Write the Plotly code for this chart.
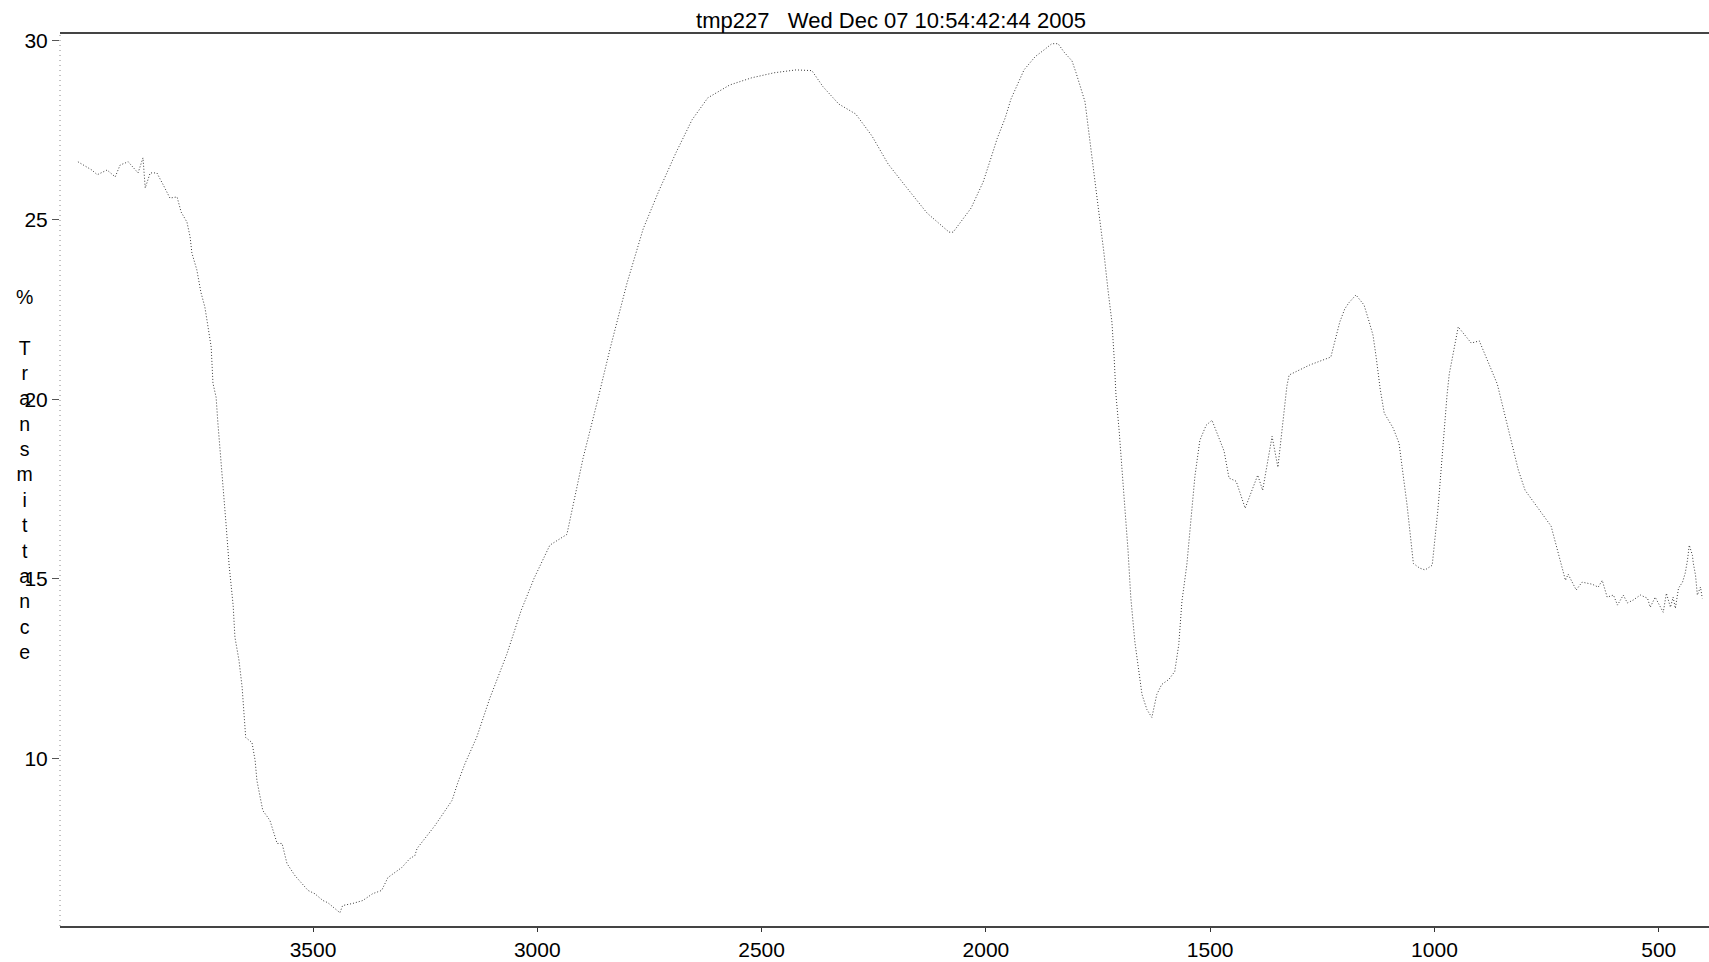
import plotly.graph_objects as go

# Wavenumber (cm-1) and %Transmittance
wavenumber = [
    4024, 3993, 3981, 3959, 3941, 3930, 3912, 3901, 3890, 3879, 3874, 3863, 3848, 3834,
    3819, 3803, 3794, 3781, 3774, 3770, 3759, 3750, 3741, 3734, 3727, 3723, 3716, 3712,
    3703, 3694, 3687, 3678, 3674, 3665, 3658, 3654, 3650, 3636, 3629, 3625, 3612, 3596,
    3589, 3580, 3569, 3558, 3540, 3525, 3511, 3496, 3478, 3467, 3440, 3434, 3411, 3389,
    3367, 3347, 3333, 3302, 3284, 3273, 3268, 3228, 3190, 3177, 3161, 3135, 3106, 3068,
    3036, 3007, 2972, 2934, 2923, 2898, 2867, 2838, 2800, 2764, 2729, 2691, 2655, 2620,
    2571, 2522, 2472, 2423, 2388, 2363, 2328, 2290, 2254, 2218, 2181, 2131, 2082, 2073,
    2033, 2006, 1988, 1975, 1957, 1944, 1915, 1890, 1870, 1853, 1839, 1826, 1808, 1799,
    1779, 1748, 1737, 1728, 1719, 1714, 1710, 1703, 1699, 1694, 1688, 1683, 1677, 1668,
    1661, 1652, 1641, 1630, 1619, 1608, 1592, 1579, 1570, 1563, 1552, 1538, 1534, 1523,
    1509, 1496, 1478, 1469, 1458, 1442, 1422, 1394, 1383, 1362, 1349, 1336, 1329, 1324,
    1278, 1231, 1222, 1217, 1211, 1200, 1191, 1175, 1157, 1146, 1137, 1130, 1124, 1121,
    1112, 1092, 1079, 1074, 1061, 1047, 1033, 1021, 1005, 992, 981, 972, 967, 947, 918,
    900, 860, 838, 827, 813, 798, 740, 708, 702, 684, 671, 648, 635, 626,
    615, 601, 592, 579, 570, 557, 541, 525, 519, 508, 501, 490, 483, 474,
    468, 463, 456, 447, 441, 436, 432, 425, 423, 418, 414, 407, 403,
]
transmittance = [
    26.62, 26.39, 26.26, 26.39, 26.20, 26.53, 26.62, 26.45, 26.31, 26.73, 25.89, 26.31, 26.31, 25.98,
    25.61, 25.64, 25.22, 24.94, 24.53, 24.08, 23.61, 22.99, 22.57, 22.02, 21.46, 20.45, 20.06, 19.34,
    18.03, 16.55, 15.38, 14.26, 13.37, 12.73, 11.98, 11.25, 10.58, 10.44, 9.94, 9.38, 8.55, 8.27,
    7.99, 7.63, 7.63, 7.07, 6.73, 6.51, 6.32, 6.23, 6.04, 5.98, 5.70, 5.90, 5.96, 6.04,
    6.23, 6.32, 6.68, 6.96, 7.21, 7.29, 7.49, 8.13, 8.83, 9.33, 9.86, 10.59, 11.67, 12.90,
    14.12, 15.02, 15.94, 16.24, 16.86, 18.36, 19.90, 21.40, 23.24, 24.75, 25.81, 26.87, 27.79, 28.40,
    28.76, 28.96, 29.10, 29.18, 29.16, 28.71, 28.23, 27.95, 27.34, 26.56, 25.97, 25.19, 24.66, 24.66,
    25.33, 26.06, 26.75, 27.26, 27.84, 28.37, 29.18, 29.55, 29.74, 29.91, 29.91, 29.68, 29.43, 29.10,
    28.29, 25.30, 24.10, 23.07, 22.15, 21.15, 20.12, 19.14, 18.50, 17.44, 16.55, 15.77, 14.49, 13.26,
    12.61, 11.78, 11.36, 11.14, 11.78, 12.06, 12.20, 12.42, 13.17, 14.37, 15.40, 17.16, 17.86, 18.86,
    19.28, 19.42, 18.86, 18.56, 17.81, 17.72, 16.97, 17.89, 17.47, 18.97, 18.11, 19.62, 20.37, 20.68,
    20.96, 21.18, 21.60, 21.88, 22.16, 22.52, 22.69, 22.91, 22.63, 22.18, 21.79, 21.18, 20.59, 20.29,
    19.62, 19.20, 18.78, 18.31, 17.05, 15.43, 15.30, 15.25, 15.38, 16.97, 18.86, 20.12, 20.71, 22.02, 21.57,
    21.63, 20.43, 19.34, 18.73, 18.03, 17.47, 16.47, 14.96, 15.13, 14.69, 14.91, 14.85, 14.77, 14.96,
    14.49, 14.55, 14.27, 14.55, 14.33, 14.41, 14.55, 14.46, 14.21, 14.49, 14.33, 14.07, 14.60, 14.21,
    14.49, 14.18, 14.74, 14.91, 15.16, 15.52, 15.94, 15.66, 15.44, 15.10, 14.55, 14.77, 14.46,
]

x_tick_values = [3500, 3000, 2500, 2000, 1500, 1000, 500]
x_tick_labels = ["3500", "3000", "2500", "2000", "1500", "1000", "500"]
y_tick_values = [10, 15, 20, 25, 30]
y_tick_labels = ["10", "15", "20", "25", "30"]

title_text = "tmp227\u00a0\u00a0\u00a0Wed Dec 07 10:54:42:44 2005"
y_title_letters = ["%", "", "T", "r", "a", "n", "s", "m", "i", "t", "t", "a", "n", "c", "e"]

FONT = "Arial, Liberation Sans, sans-serif"

fig = go.Figure()
fig.add_trace(go.Scatter(
    x=wavenumber, y=transmittance, mode="lines",
    line=dict(color="#3a3a3a", width=1, dash="1px,2px"),
    showlegend=False, hoverinfo="x+y",
))

fig.update_layout(
    width=1709, height=962,
    margin=dict(l=60, r=0, t=34, b=36),
    paper_bgcolor="white", plot_bgcolor="white",
    font=dict(family=FONT, size=22, color="black"),
    title=dict(text=title_text, xref="container", x=891 / 1709, xanchor="center",
               y=1 - 20 / 962, yanchor="middle",
               font=dict(family=FONT, size=22, color="black")),
    xaxis=dict(range=[4064, 388], showgrid=False, zeroline=False,
               tickmode="array", tickvals=x_tick_values, ticktext=x_tick_labels,
               ticks="outside", ticklen=4, tickcolor="#333", tickwidth=1,
               showline=True, linecolor="#444444", linewidth=1.5, mirror=True,
               tickfont=dict(family=FONT, size=21, color="black")),
    yaxis=dict(range=[5.33, 30.18], showgrid=False, zeroline=False,
               tickmode="array", tickvals=y_tick_values, ticktext=y_tick_labels,
               ticks="outside", ticklen=7, tickcolor="#555", tickwidth=1,
               showline=False,
               tickfont=dict(family=FONT, size=21, color="black")),
)

# dotted left frame line like the scanned original
fig.add_shape(type="line", xref="paper", yref="paper", x0=0, x1=0, y0=0, y1=1,
              line=dict(color="#888888", width=1, dash="1px,4px"))

fig.add_annotation(
    text="<br>".join(y_title_letters), xref="paper", yref="paper",
    x=(24 - 60) / 1649, y=(926 - 474) / 892, xanchor="center", yanchor="middle",
    showarrow=False, align="center", font=dict(family=FONT, size=19.5, color="black"),
)

fig.write_html("out.html", config={"displayModeBar": False},
               post_script="document.body.style.margin='0';document.body.style.overflow='hidden';")
